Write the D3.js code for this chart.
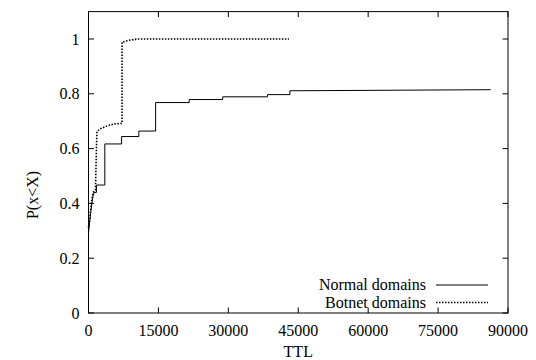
<!DOCTYPE html>
<html>
<head>
<meta charset="utf-8">
<script src="https://cdn.jsdelivr.net/npm/d3@7"></script>
<style>
  body { margin: 0; background: #fff; }
  text { font-family: "Liberation Serif", "DejaVu Serif", serif; fill: #000; }
</style>
</head>
<body>
<script>
// TTL / P(x<X); steps are written as pairs of points
var normalTTL = [0, 0, 100, 300, 500, 800, 1000, 1200, 1700, 1700, 3500, 3500, 7100, 7100, 10800, 10800,
  14400, 14400, 21600, 21600, 28800, 28800, 38400, 38400, 43200, 43200, 86300];
var normalP = [0.21, 0.29, 0.31, 0.34, 0.37, 0.41, 0.43, 0.44, 0.44, 0.467, 0.467, 0.617, 0.617, 0.644, 0.644, 0.664,
  0.664, 0.768, 0.768, 0.779, 0.779, 0.789, 0.789, 0.797, 0.797, 0.811, 0.815];

var botnetTTL = [0, 300, 600, 1000, 1500, 1700, 1800, 2500, 4000, 5500, 7200, 7200, 8500, 10500, 43000];
var botnetP = [0.31, 0.35, 0.40, 0.44, 0.45, 0.60, 0.662, 0.672, 0.683, 0.69, 0.692, 0.988, 0.995, 1.0, 1.0];

var xTicks = [0, 15000, 30000, 45000, 60000, 75000, 90000];
var yTicks = [0, 0.2, 0.4, 0.6, 0.8, 1];
var seriesNames = ["Normal domains", "Botnet domains"];

var width = 536, height = 360;
var plot = { left: 88.5, right: 508, top: 11.6, bottom: 313 };
var tickLen = 5.5;

var svg = d3.select("body").append("svg")
  .attr("width", width)
  .attr("height", height);

var x = d3.scaleLinear().domain([0, 90000]).range([plot.left, plot.right]);
var y = d3.scaleLinear().domain([0, 1.1]).range([plot.bottom, plot.top]);

// inward ticks on all four sides, gnuplot style
var ticks = svg.append("g").attr("stroke", "#000").attr("stroke-width", 1);
xTicks.forEach(function (t) {
  ticks.append("line").attr("x1", x(t)).attr("x2", x(t)).attr("y1", plot.bottom).attr("y2", plot.bottom - tickLen);
  ticks.append("line").attr("x1", x(t)).attr("x2", x(t)).attr("y1", plot.top).attr("y2", plot.top + tickLen);
});
yTicks.forEach(function (t) {
  ticks.append("line").attr("x1", plot.left).attr("x2", plot.left + tickLen).attr("y1", y(t)).attr("y2", y(t));
  ticks.append("line").attr("x1", plot.right).attr("x2", plot.right - tickLen).attr("y1", y(t)).attr("y2", y(t));
});

svg.append("g").selectAll("text")
  .data(xTicks)
  .enter()
  .append("text")
  .attr("x", function (d) { return x(d); })
  .attr("y", plot.bottom + 23)
  .attr("text-anchor", "middle")
  .style("font-size", "16px")
  .text(function (d) { return d; });

svg.append("g").selectAll("text")
  .data(yTicks)
  .enter()
  .append("text")
  .attr("x", plot.left - 9)
  .attr("y", function (d) { return y(d) + 5.5; })
  .attr("text-anchor", "end")
  .style("font-size", "16px")
  .text(function (d) { return d; });

svg.append("text")
  .attr("x", (plot.left + plot.right) / 2)
  .attr("y", 357)
  .attr("text-anchor", "middle")
  .style("font-size", "16px")
  .text("TTL");

svg.append("text")
  .attr("transform", "translate(38,195) rotate(-90)")
  .attr("text-anchor", "middle")
  .style("font-size", "16px")
  .text("P(x<X)");

var line = d3.line()
  .x(function (d) { return x(d[0]); })
  .y(function (d) { return y(d[1]); });

svg.append("path")
  .datum(d3.zip(normalTTL, normalP))
  .attr("fill", "none")
  .attr("stroke", "#000")
  .attr("stroke-width", 1)
  .attr("d", line);

svg.append("path")
  .datum(d3.zip(botnetTTL, botnetP))
  .attr("fill", "none")
  .attr("stroke", "#000")
  .attr("stroke-width", 1.6)
  .attr("stroke-dasharray", "1.5,1.5")
  .attr("d", line);

// legend
var legend = svg.append("g");
seriesNames.forEach(function (name, i) {
  var ly = 285 + i * 17.5;
  legend.append("text")
    .attr("x", 426)
    .attr("y", ly + 5)
    .attr("text-anchor", "end")
    .style("font-size", "16px")
    .text(name);
  legend.append("line")
    .attr("x1", 436).attr("x2", 488)
    .attr("y1", ly).attr("y2", ly)
    .attr("stroke", "#000")
    .attr("stroke-width", i === 0 ? 1 : 1.6)
    .attr("stroke-dasharray", i === 0 ? null : "1.5,1.5");
});

// frame
svg.append("rect")
  .attr("x", plot.left).attr("y", plot.top)
  .attr("width", plot.right - plot.left).attr("height", plot.bottom - plot.top)
  .attr("fill", "none")
  .attr("stroke", "#000")
  .attr("stroke-width", 1);
</script>
</body>
</html>
